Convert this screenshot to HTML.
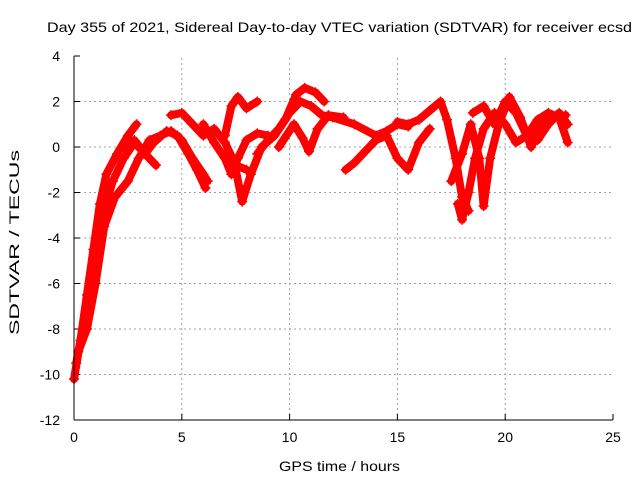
<!DOCTYPE html>
<html><head><meta charset="utf-8"><style>
body{margin:0;background:#fff;}
svg{display:block;font-family:"Liberation Sans",sans-serif;}
</style></head><body>
<svg id="chart" width="640" height="480" viewBox="0 0 640 480" xmlns="http://www.w3.org/2000/svg">
<text x="47" y="32" font-size="14" textLength="585" lengthAdjust="spacingAndGlyphs">Day 355 of 2021, Sidereal Day-to-day VTEC variation (SDTVAR) for receiver ecsd</text>
<text x="279" y="471" font-size="14" textLength="121" lengthAdjust="spacingAndGlyphs">GPS time / hours</text>
<text transform="translate(19,335) rotate(-90)" font-size="14" textLength="185" lengthAdjust="spacingAndGlyphs">SDTVAR / TECUs</text>
<g id="grid"></g>
<g id="ticks"></g>
<g id="series"></g>
<line x1="74" y1="56" x2="74" y2="420" stroke="#000" stroke-width="1"/>
<line x1="74" y1="420" x2="613" y2="420" stroke="#000" stroke-width="1"/>
</svg>
<script>
const xTicks=[0,5,10,15,20,25];
const yTicks=[-12,-10,-8,-6,-4,-2,0,2,4];
const trackA=[[0,-10.2],[0.3,-8.5],[0.6,-6.5],[0.9,-4.5],[1.2,-2.5],[1.5,-1.2],[2,-0.3],[2.5,0.5],[2.9,1.0]];
const trackB=[[0.1,-9.5],[0.5,-7.5],[0.9,-5],[1.3,-3],[1.8,-1.5],[2.3,-0.5],[2.8,0.2],[3.3,-0.3],[3.8,-0.8]];
const trackC=[[0.2,-9],[0.6,-8],[1,-6],[1.4,-3.5],[1.9,-2.2],[2.5,-1.5],[3,-0.5],[3.5,0.3],[4,0.5],[4.5,0.7],[5,0.3],[5.5,-0.5],[6,-1.2],[6.2,-1.5]];
const trackD=[[2.3,0],[2.8,0.3],[3.3,-0.3],[3.7,0.2],[4.3,0.7],[4.8,0.5],[5.3,-0.3],[5.7,-1.0],[6.1,-1.8]];
const trackE=[[4.5,1.4],[5,1.5],[5.5,1.0],[6,0.5],[6.5,0.8],[7,0.2],[7.5,-0.8],[8,-1.0]];
const trackF=[[6,1.0],[6.5,0.2],[7,-0.5],[7.3,-1.2],[7.6,-0.5],[8,0.3],[8.5,0.6],[9,0.5]];
const trackG=[[7,0.5],[7.3,1.8],[7.6,2.2],[8,1.7],[8.5,2.0]];
const trackH=[[7.5,-1],[7.8,-2.4],[8.2,-1.2],[8.7,0],[9.3,0.5],[9.8,1.2],[10.3,2.3],[10.7,2.6],[11.2,2.4],[11.6,2.0]];
const trackI=[[8.5,-0.3],[9,0.3],[9.5,0.8],[10,1.5],[10.5,2.0],[11,1.8],[11.5,1.4],[12,1.3],[13,1.0],[14,0.5],[14.5,0.7],[15,1.0],[15.5,0.9]];
const trackJ=[[9.5,0],[10.2,1.0],[10.6,0.4],[10.9,-0.2],[11.3,0.8],[11.8,1.4],[12.5,1.3]];
const trackK=[[12.6,-1.0],[13,-0.7],[13.5,-0.2],[14,0.3],[14.5,0.5],[15,-0.5],[15.5,-1.0],[16,0.2],[16.5,0.8]];
const trackL=[[15,1.1],[15.5,1.0],[16,1.2],[16.5,1.6],[17,2.0],[17.3,1.2],[17.7,-0.5],[18,-2.2],[18.3,-2.8]];
const trackM=[[17.8,-2.5],[18,-3.2],[18.3,-2],[18.6,-0.5],[19,0.8],[19.5,1.5],[20,1.0],[20.5,0.2],[21,0.5],[21.5,1.2],[22,1.5],[22.5,1.3],[22.9,0.2]];
const trackN=[[17.5,-1.5],[18,-0.3],[18.4,1.0],[18.8,-0.5],[19,-2.6],[19.3,-0.5],[19.7,1.0],[20.2,2.2],[20.7,1.3],[21.2,0.0],[21.7,1.0],[22.2,1.3],[22.8,1.4]];
const trackO=[[18.5,1.5],[19,1.8],[19.5,1.0],[20,2.0],[20.5,1.5],[21,0.5],[21.5,0.3],[22,1.0],[22.5,1.5],[22.9,1.0]];
const tracks=[trackA,trackB,trackC,trackD,trackE,trackF,trackG,trackH,trackI,trackJ,trackK,trackL,trackM,trackN,trackO];
const NS="http://www.w3.org/2000/svg";
const X0=74,X1=613,Y0=420,Y1=56;
function xs(t){return X0+(t-0)/(25-0)*(X1-X0);}
function ys(v){return Y0-(v-(-12))/(4-(-12))*(Y0-Y1);}
const grid=document.getElementById('grid'),ticks=document.getElementById('ticks'),series=document.getElementById('series');
function mk(tag,attrs,parent){const e=document.createElementNS(NS,tag);for(const k in attrs)e.setAttribute(k,attrs[k]);parent.appendChild(e);return e;}
xTicks.forEach(t=>{
  if(t>0&&t<25){const g=mk('line',{x1:xs(t),x2:xs(t),y1:Y0,y2:Y1,stroke:'#a0a0a0','stroke-dasharray':'2,3'},grid);
  
  }
  const tk=mk('line',{x1:xs(t),x2:xs(t),y1:Y0,y2:Y0-6,stroke:'#000'},ticks);
  
  
  const lb=mk('text',{x:xs(t),y:Y0+22,'font-size':14,'text-anchor':'middle'},ticks);lb.textContent=t;
  
  
});
yTicks.forEach(v=>{
  if(v>-12&&v<4){const g=mk('line',{x1:X0,x2:X1,y1:ys(v),y2:ys(v),stroke:'#a0a0a0','stroke-dasharray':'2,3'},grid);
  
  }
  const tk=mk('line',{x1:X0,x2:X0+6,y1:ys(v),y2:ys(v),stroke:'#000'},ticks);
  
  
  const lb=mk('text',{x:X0-14,y:ys(v)+5,'font-size':14,'text-anchor':'end'},ticks);lb.textContent=v;
  
  
});
tracks.forEach((tr,i)=>{
  const pl=mk('polyline',{points:tr.map(p=>xs(p[0])+','+ys(p[1])).join(' '),fill:'none',stroke:'#ff0000','stroke-width':8,'stroke-linejoin':'round','stroke-linecap':'round'},series);
  
  
  tr.forEach(p=>{
    const m=mk('path',{d:`M${xs(p[0])-5},${ys(p[1])}h10M${xs(p[0])},${ys(p[1])-5}v10`,stroke:'#ff0000','stroke-width':1.5},series);
    
    
  });
});
</script>
</body></html>
